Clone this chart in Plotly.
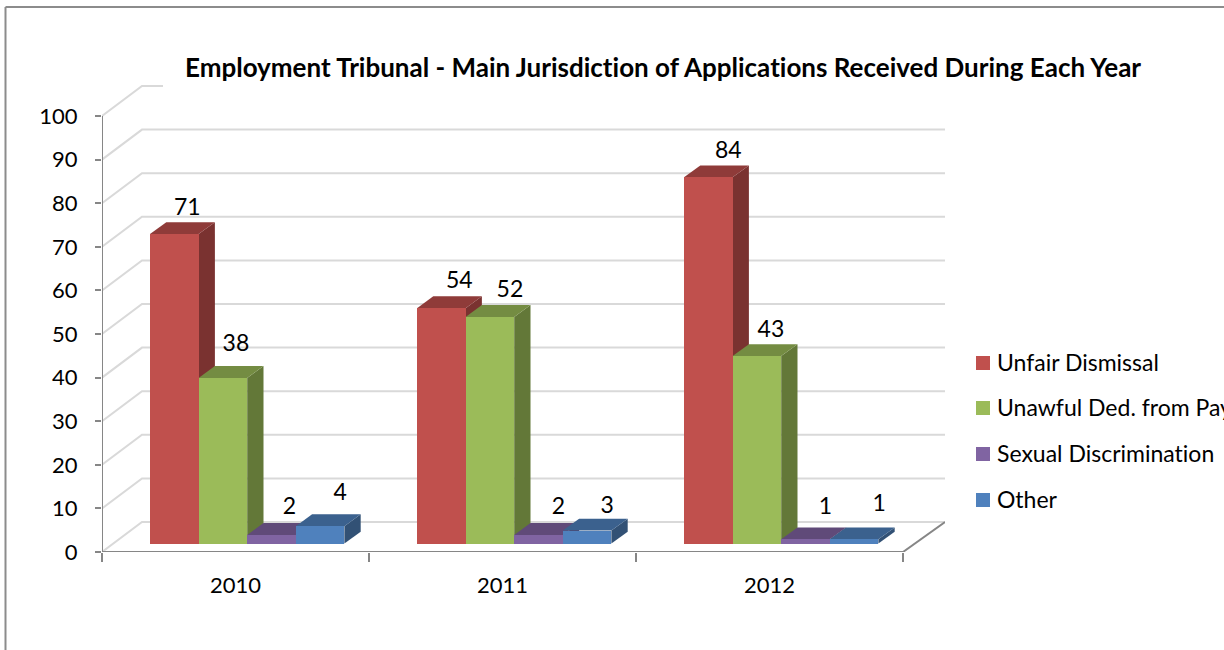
import plotly.graph_objects as go

years = ["2010", "2011", "2012"]
series_names = ["Unfair Dismissal", "Unawful Ded. from Pay", "Sexual Discrimination", "Other"]
unfair = [71, 54, 84]
unlawful = [38, 52, 43]
sexual = [2, 2, 1]
other = [4, 3, 1]
y_ticks = list(range(0, 101, 10))

front_colors = ["#C0504D", "#9BBB59", "#8064A2", "#4F81BD"]
top_colors = ["#8F3B39", "#748C42", "#604A79", "#3B618E"]
side_colors = ["#7A3230", "#637838", "#523F68", "#325175"]

# Layout geometry (pixels of the 1224x650 page)
PX_L, PX_R, PX_T, PX_B = 102, 945, 85, 552
PX_PER_CAT = 267.0
PX_PER_UNIT = 4.36
x_max = (PX_R - PX_L) / PX_PER_CAT
y_max = (PX_B - PX_T) / PX_PER_UNIT
def dxp(px): return px / PX_PER_CAT
def dyp(px): return px / PX_PER_UNIT
def paper_x(px): return (px - PX_L) / (PX_R - PX_L)
def paper_y(py): return (PX_B - py) / (PX_B - PX_T)

BAR_W = dxp(48.6)
GROUP_START = dxp(48)
BASE = dyp(8.4)
DEPTH_X, DEPTH_Y = dxp(16.3), dyp(11.8)
WALL_X, WALL_Y = dxp(40), dyp(30)

values = [unfair, unlawful, sexual, other]
shapes = []

# back wall gridlines with the slanted side-wall part
for t in y_ticks:
    end = x_max if t < 100 else dxp(61)
    shapes.append(dict(type="path", layer="below", xref="x", yref="y",
                       path=f"M 0 {t} L {WALL_X} {t + WALL_Y} L {end} {t + WALL_Y}",
                       line=dict(color="#D9D9D9", width=2)))

# floor edge and axes lines
shapes.append(dict(type="line", layer="below", xref="x", yref="y", x0=3, y0=0,
                   x1=3 + WALL_X + dxp(2), y1=WALL_Y, line=dict(color="#868686", width=2)))
shapes.append(dict(type="line", layer="below", xref="x", yref="y", x0=0, y0=0, x1=3, y1=0,
                   line=dict(color="#868686", width=2)))
shapes.append(dict(type="line", layer="below", xref="x", yref="y", x0=0, y0=0, x1=0, y1=100,
                   line=dict(color="#868686", width=2)))

# depth faces of the bars, behind the front faces
for s, vals in enumerate(values):
    for c, v in enumerate(vals):
        x0 = c + GROUP_START + s * BAR_W
        x1 = x0 + BAR_W
        top = BASE + v
        shapes.append(dict(type="path", layer="below", xref="x", yref="y",
                           path=f"M {x1} {BASE} L {x1 + DEPTH_X} {BASE + DEPTH_Y} L {x1 + DEPTH_X} {top + DEPTH_Y} L {x1} {top} Z",
                           fillcolor=side_colors[s], line=dict(width=0)))
        shapes.append(dict(type="path", layer="below", xref="x", yref="y",
                           path=f"M {x0} {top} L {x0 + DEPTH_X} {top + DEPTH_Y} L {x1 + DEPTH_X} {top + DEPTH_Y} L {x1} {top} Z",
                           fillcolor=top_colors[s], line=dict(width=0)))

# chart-area border (left and top edges visible)
shapes.append(dict(type="line", xref="paper", yref="paper", x0=paper_x(5.5), x1=paper_x(5.5),
                   y0=paper_y(7), y1=paper_y(660), line=dict(color="#8C8C8C", width=2)))
shapes.append(dict(type="line", xref="paper", yref="paper", x0=paper_x(5.5), x1=paper_x(1240),
                   y0=paper_y(7), y1=paper_y(7), line=dict(color="#8C8C8C", width=2)))

FONT = "Lato, Carlito, Calibri, sans-serif"
fig = go.Figure()

for s, vals in enumerate(values):
    fig.add_trace(go.Bar(
        x=[c + GROUP_START + (s + 0.5) * BAR_W for c in range(3)],
        y=vals, base=BASE, width=BAR_W, name=series_names[s], showlegend=False,
        marker=dict(color=front_colors[s], line=dict(width=0)),
        hoverinfo="name+y"))

# data labels: px offsets from each bar's top-centre
label_dx = [[13, 18, 20], [13, 20, 14], [18, 20, 20], [20, 20, 25]]
label_dy = [[25, 26, 25], [33, 26, 25], [27, 27, 31], [32, 23, 34]]
lx, ly, lt = [], [], []
for s, vals in enumerate(values):
    for c, v in enumerate(vals):
        lx.append(c + GROUP_START + (s + 0.5) * BAR_W + dxp(label_dx[s][c]))
        ly.append(BASE + v + dyp(label_dy[s][c]))
        lt.append(str(v))
fig.add_trace(go.Scatter(x=lx, y=ly, text=lt, mode="text", textposition="middle center",
                         textfont=dict(family=FONT, size=23, color="#000000"),
                         showlegend=False, hoverinfo="skip", cliponaxis=False))

# legend, placed by hand so swatches and labels sit where the reference has them
legend_rows_px = [363, 408, 454, 500]
annotations = []
for name, color, py in zip(series_names, front_colors, legend_rows_px):
    shapes.append(dict(type="rect", xref="paper", yref="paper", x0=paper_x(976), x1=paper_x(990),
                       y0=paper_y(py - 7), y1=paper_y(py + 7), fillcolor=color, line=dict(width=0)))
    annotations.append(dict(text=name, xref="paper", yref="paper", x=paper_x(995), y=paper_y(py - 1),
                            xanchor="left", yanchor="middle", showarrow=False, align="left",
                            font=dict(family=FONT, size=23, color="#000000")))

fig.update_layout(
    width=1224, height=650, autosize=False,
    margin=dict(l=PX_L, r=1224 - PX_R, t=PX_T, b=650 - PX_B, pad=0, autoexpand=False),
    paper_bgcolor="white", plot_bgcolor="white",
    font=dict(family=FONT, size=22, color="#000000"),
    shapes=shapes, annotations=annotations, barmode="overlay", bargap=0,
    title=dict(text="<b>Employment Tribunal - Main Jurisdiction of Applications Received During Each Year</b>",
               x=663 / 1224, xanchor="center", y=1 - 68 / 650, yanchor="middle",
               font=dict(family=FONT, size=26, color="#000000")),
    xaxis=dict(range=[0, x_max], tickmode="array", tickvals=[0.5, 1.5, 2.5], ticktext=years,
               showgrid=False, zeroline=False, showline=False, ticks="", ticklabelstandoff=18,
               minor=dict(tickmode="array", tickvals=[0, 1, 2, 3], ticks="outside", ticklen=9,
                          tickwidth=2, tickcolor="#868686", showgrid=False),
               tickfont=dict(family=FONT, size=22), automargin=False),
    yaxis=dict(range=[0, y_max], tickmode="array", tickvals=y_ticks, showgrid=False, zeroline=False,
               showline=False, ticks="outside", ticklen=6, tickwidth=2, tickcolor="#868686",
               ticklabelstandoff=13, tickfont=dict(family=FONT, size=22), automargin=False),
    showlegend=False,
)

POST = (
    "document.body.style.margin='0';document.body.style.overflow='hidden';"
    "var st=document.createElement('style');"
    "st.textContent=\"svg text,svg tspan{font-variant-ligatures:none !important;"
    "font-feature-settings:'liga' 0,'clig' 0 !important;}\";"
    "document.head.appendChild(st);"
)
fig.write_html("out.html", config={"displayModeBar": False}, post_script=POST)
